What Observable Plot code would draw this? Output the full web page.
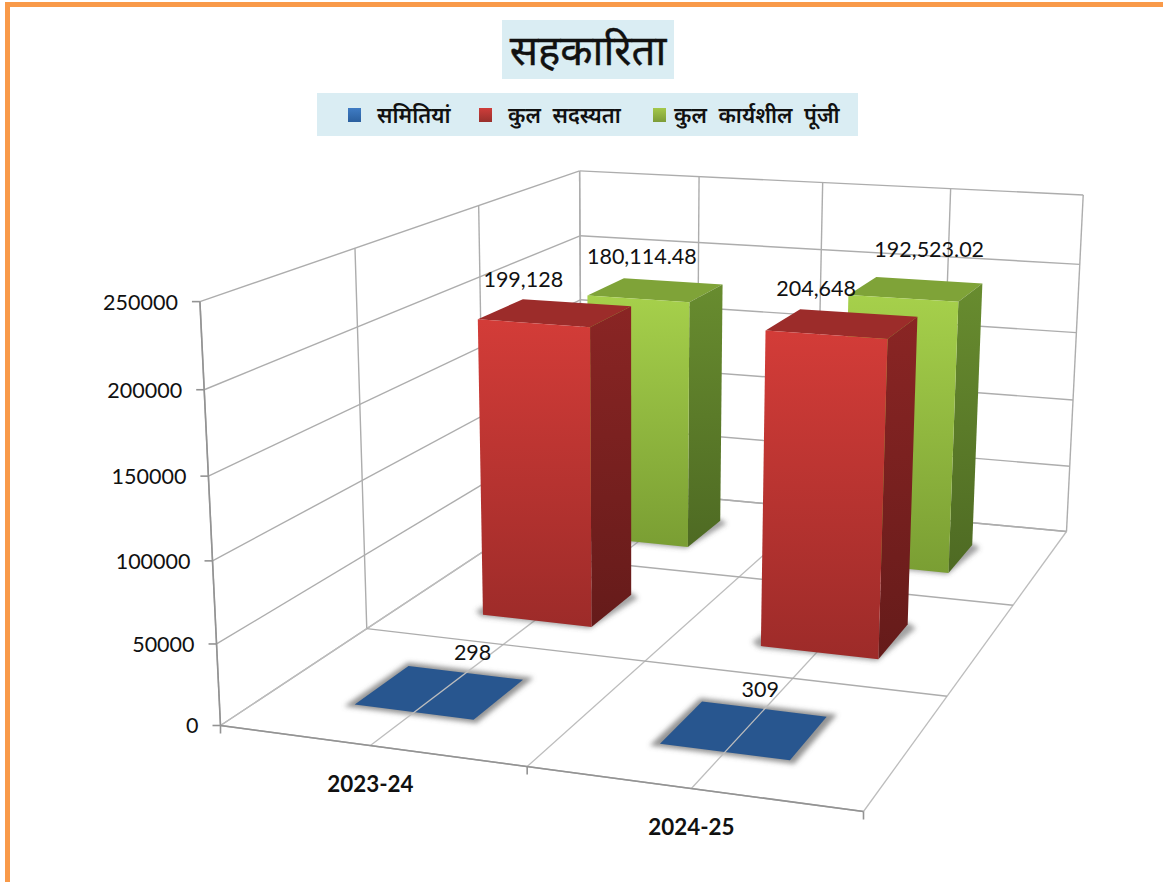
<!DOCTYPE html>
<html lang="hi">
<head>
<meta charset="utf-8">
<script src="https://cdn.jsdelivr.net/npm/d3@7"></script>
<script src="https://cdn.jsdelivr.net/npm/@observablehq/plot@0.6"></script>
<style>
html,body{margin:0;padding:0;background:#fff;width:1163px;height:882px;overflow:hidden}
.bt{position:absolute;left:5px;top:2px;right:0;height:5px;background:#f99a49}
.bl{position:absolute;left:5px;top:2px;bottom:0;width:5px;background:#f99a49}
#title{position:absolute;left:502px;top:20px;width:172px;height:59px;background:#daedf3;text-align:center;font:400 42px/58px "Noto Sans","Liberation Sans",sans-serif;color:#111;-webkit-text-stroke:.4px #111}
#legend{position:absolute;left:317px;top:93px;width:541px;height:43px;background:#daedf3;font:600 21.6px/43px "Noto Sans","Liberation Sans",sans-serif;color:#111;word-spacing:6px}
#legend i{position:absolute;top:15px;width:13px;height:14px}
#legend span{position:absolute;top:0;white-space:pre}
#chart{position:absolute;left:0;top:140px}
</style>
</head>
<body>
<div class="bt"></div><div class="bl"></div>
<div id="title"></div>
<div id="legend"></div>
<div id="chart"></div>
<script>
const titleText = "सहकारिता";
const categories = ["2023-24", "2024-25"];
const seriesNames = ["समितियां", "कुल सदस्यता", "कुल कार्यशील पूंजी"];
const societies = [298, 309];
const membership = [199128, 204648];
const workingCapital = [180114.48, 192523.02];
const valueLabels = [["298","309"],["199,128","204,648"],["180,114.48","192,523.02"]];
const yTicks = [0, 50000, 100000, 150000, 200000, 250000];
const yMax = 250000;

// camera calibration: page pixel position of the chart box's floor corners and of known wall-top points
const floorCorners = [[220,725],[863,811],[1066,531],[581,486]];
const roofPoints = [[0,0,200,302],[1,1,1083,195],[0,1,578,169],[0,1/3,355,248]];
const barHalfWidth = 0.1, barHalfDepth = 0.065;
const seriesShiftU = [-0.001, 0.004, 0];
const labelNudge = [[[32,-39],[15,-39]],[[-30,-32],[-24,-34]],[[-14,-33],[13,-39]]];
const tickLength = 8;

// projective camera: floor homography extended with a height column fitted to roofPoints
const [[x0,y0],[x1,y1],[x2,y2],[x3,y3]] = floorCorners;
const dx1=x1-x2,dx2=x3-x2,sx=x0-x1+x2-x3,dy1=y1-y2,dy2=y3-y2,sy=y0-y1+y2-y3;
const den=dx1*dy2-dx2*dy1;
const g=(sx*dy2-dx2*sy)/den,h=(dx1*sy-sx*dy1)/den;
const a=x1-x0+g*x1,b=x3-x0+h*x3,d=y1-y0+g*y1,e=y3-y0+h*y3;
const rp=roofPoints.map(([u,v,x,y])=>{const w=g*u+h*v+1;return {x,y,bx:x*w-(a*u+b*v+x0),by:y*w-(d*u+e*v+y0)};});
const mx=d3.mean(rp,r=>r.x),my=d3.mean(rp,r=>r.y),mbx=d3.mean(rp,r=>r.bx),mby=d3.mean(rp,r=>r.by);
const k=-d3.sum(rp,r=>(r.x-mx)*(r.bx-mbx)+(r.y-my)*(r.by-mby))/d3.sum(rp,r=>(r.x-mx)**2+(r.y-my)**2);
const cx=mbx+mx*k,cy=mby+my*k;
function proj(u,v,val){
  const t=val/yMax,w=g*u+h*v+1+k*t;
  return {x:(a*u+b*v+x0+cx*t)/w,y:(d*u+e*v+y0+cy*t)/w};
}

document.getElementById("title").textContent=titleText;
const legendEl=document.getElementById("legend");
const swatchGrad=["#3f7cc4,#2a5f9e","#cf3d3a,#98302c","#a4c84a,#7c9c38"];
const swatchX=[31,162,336], textX=[60,191,357];
seriesNames.forEach((n,i)=>{
  const s=document.createElement("i");s.style.left=swatchX[i]+"px";s.style.background=`linear-gradient(${swatchGrad[i]})`;legendEl.appendChild(s);
  const t=document.createElement("span");t.style.left=textX[i]+"px";t.textContent=n;legendEl.appendChild(t);
});

const seriesVals=[societies,membership,workingCapital];
const seriesV=[1/6,0.49,5/6];
const catU=[0.25,0.75];
const uGrid=[0,.25,.5,.75,1], vGrid=[0,1/3,2/3,1];

function seg(a,b){return {x1:a.x,y1:a.y,x2:b.x,y2:b.y};}
const floorU=uGrid.map(u=>seg(proj(u,0,0),proj(u,1,0)));
const floorV=vGrid.map(v=>seg(proj(0,v,0),proj(1,v,0)));
const backWallU=uGrid.map(u=>seg(proj(u,1,0),proj(u,1,yMax)));
const backWallH=yTicks.map(t=>seg(proj(0,1,t),proj(1,1,t)));
const sideV=vGrid.map(v=>seg(proj(0,v,0),proj(0,v,yMax)));
const sideH=yTicks.map(t=>seg(proj(0,0,t),proj(0,1,t)));
const axisLines=[seg(proj(0,0,0),proj(1,0,0)),seg(proj(0,0,0),proj(0,0,yMax))];
const yTickPts=yTicks.map(t=>({...proj(0,0,t),label:String(t)}));
const yTickSegs=yTickPts.map(p=>({x1:p.x-tickLength,y1:p.y,x2:p.x,y2:p.y}));
const xTickSegs=[0,.5,1].map(u=>{const p=proj(u,0,0);return {x1:p.x,y1:p.y,x2:p.x,y2:p.y+tickLength};});
const catPts=categories.map((c,i)=>({...proj(catU[i],0,0),label:c}));

const wallStyle={stroke:"#adadad",strokeWidth:1.4};
const floorStyle={stroke:"#bdbdbd",strokeWidth:1.3};
const gl=(d,st=wallStyle)=>Plot.link(d,{x1:"x1",y1:"y1",x2:"x2",y2:"y2",...st});
const axisStyle={stroke:"#939393",strokeWidth:1.6};
const poly=(pts,fill,opts={})=>Plot.line(pts,{x:"x",y:"y",fill,stroke:"none",...opts});
const blurred=(sd)=>({render(i,s,v,dm,c,next){const gg=next(i,s,v,dm,c);gg.setAttribute("filter",`url(#${sd})`);return gg;}});

const faceFill=[
  {front:"#28568f",side:"#28568f",top:"#28568f"},
  {front:"url(#redFront)",side:"url(#redSide)",top:"#9c2c2a"},
  {front:"url(#greenFront)",side:"url(#greenSide)",top:"#7fa338"}
];

function barMarks(si,ci){
  const c=catU[ci]+seriesShiftU[si],s=seriesV[si],val=seriesVals[si][ci];
  const u0=c-barHalfWidth,u1=c+barHalfWidth,v0=s-barHalfDepth,v1=s+barHalfDepth;
  const p=proj;
  const f=faceFill[si];
  if(si===0){
    const halo=[p(u0-.012,v0-.008,0),p(u1+.01,v0-.008,0),p(u1+.012,v1+.01,0),p(u0-.008,v1+.01,0)];
    return [poly(halo,"#666",{...blurred("soft"),fillOpacity:.7}),poly([p(u0,v0,0),p(u1,v0,0),p(u1,v1,0),p(u0,v1,0)],f.front)];
  }
  const shadow=[p(u0-.02,v0+.01,0),p(u0,v0-.006,0),p(u1,v0-.006,0),p(u1+.018,v1-.01,0),p(u1,v1+.006,0),p(u0,v1,0)];
  return [
    poly(shadow,"#555",{...blurred("soft"),fillOpacity:.55}),
    poly([p(u0,v1,val),p(u1,v1,val),p(u1,v0,val),p(u0,v0,val)],f.top),
    poly([p(u1,v0,0),p(u1,v1,0),p(u1,v1,val),p(u1,v0,val)],f.side),
    poly([p(u0,v0,0),p(u1,v0,0),p(u1,v0,val),p(u0,v0,val)],f.front)
  ];
}

const labelData=[];
seriesVals.forEach((vals,si)=>vals.forEach((val,ci)=>{
  const pt=proj(catU[ci],seriesV[si],val);
  labelData.push({x:pt.x,y:pt.y,label:valueLabels[si][ci],dx:labelNudge[si][ci][0],dy:labelNudge[si][ci][1]});
}));

const plot=Plot.plot({
  width:1163,height:742,margin:0,
  x:{domain:[0,1163],range:[0,1163],axis:null},
  y:{domain:[140,882],range:[0,742],axis:null},
  style:{background:"transparent",fontFamily:"Lato, sans-serif"},
  marks:[
    ()=>{const ns="http://www.w3.org/2000/svg";const defs=document.createElementNS(ns,"defs");
      defs.innerHTML=`
      <linearGradient id="redFront" x1="0" y1="0" x2="0" y2="1"><stop offset="0" stop-color="#d33c38"/><stop offset="1" stop-color="#9d2b29"/></linearGradient>
      <linearGradient id="redSide" x1="0" y1="0" x2="0" y2="1"><stop offset="0" stop-color="#8a2524"/><stop offset="1" stop-color="#651b1a"/></linearGradient>
      <linearGradient id="greenFront" x1="0" y1="0" x2="0" y2="1"><stop offset="0" stop-color="#a6d04b"/><stop offset="1" stop-color="#7a9e33"/></linearGradient>
      <linearGradient id="greenSide" x1="0" y1="0" x2="0" y2="1"><stop offset="0" stop-color="#688c2f"/><stop offset="1" stop-color="#4e6a23"/></linearGradient>
      <filter id="soft" x="-20%" y="-20%" width="140%" height="140%"><feGaussianBlur stdDeviation="2.6"/></filter>`;
      return defs;},
    gl(backWallU),gl(backWallH),gl(sideV),gl(sideH),
    ...barMarks(0,0),...barMarks(0,1),
    gl(floorU,floorStyle),gl(floorV),
    gl(axisLines,axisStyle),gl(yTickSegs,axisStyle),gl(xTickSegs,axisStyle),
    Plot.text(yTickPts,{x:"x",y:"y",text:"label",textAnchor:"end",dx:-22,dy:1,fontSize:21.5,fill:"#111"}),
    Plot.text(catPts,{x:"x",y:"y",text:"label",dy:39,fontSize:22.4,fontWeight:700,fill:"#111"}),
    ...barMarks(2,0),...barMarks(1,0),...barMarks(2,1),...barMarks(1,1),
    ...labelData.map(l=>Plot.text([l],{x:"x",y:"y",text:"label",dx:l.dx,dy:l.dy,fontSize:21.5,fill:"#111"}))
  ]
});
document.getElementById("chart").appendChild(plot);
</script>
</body>
</html>
